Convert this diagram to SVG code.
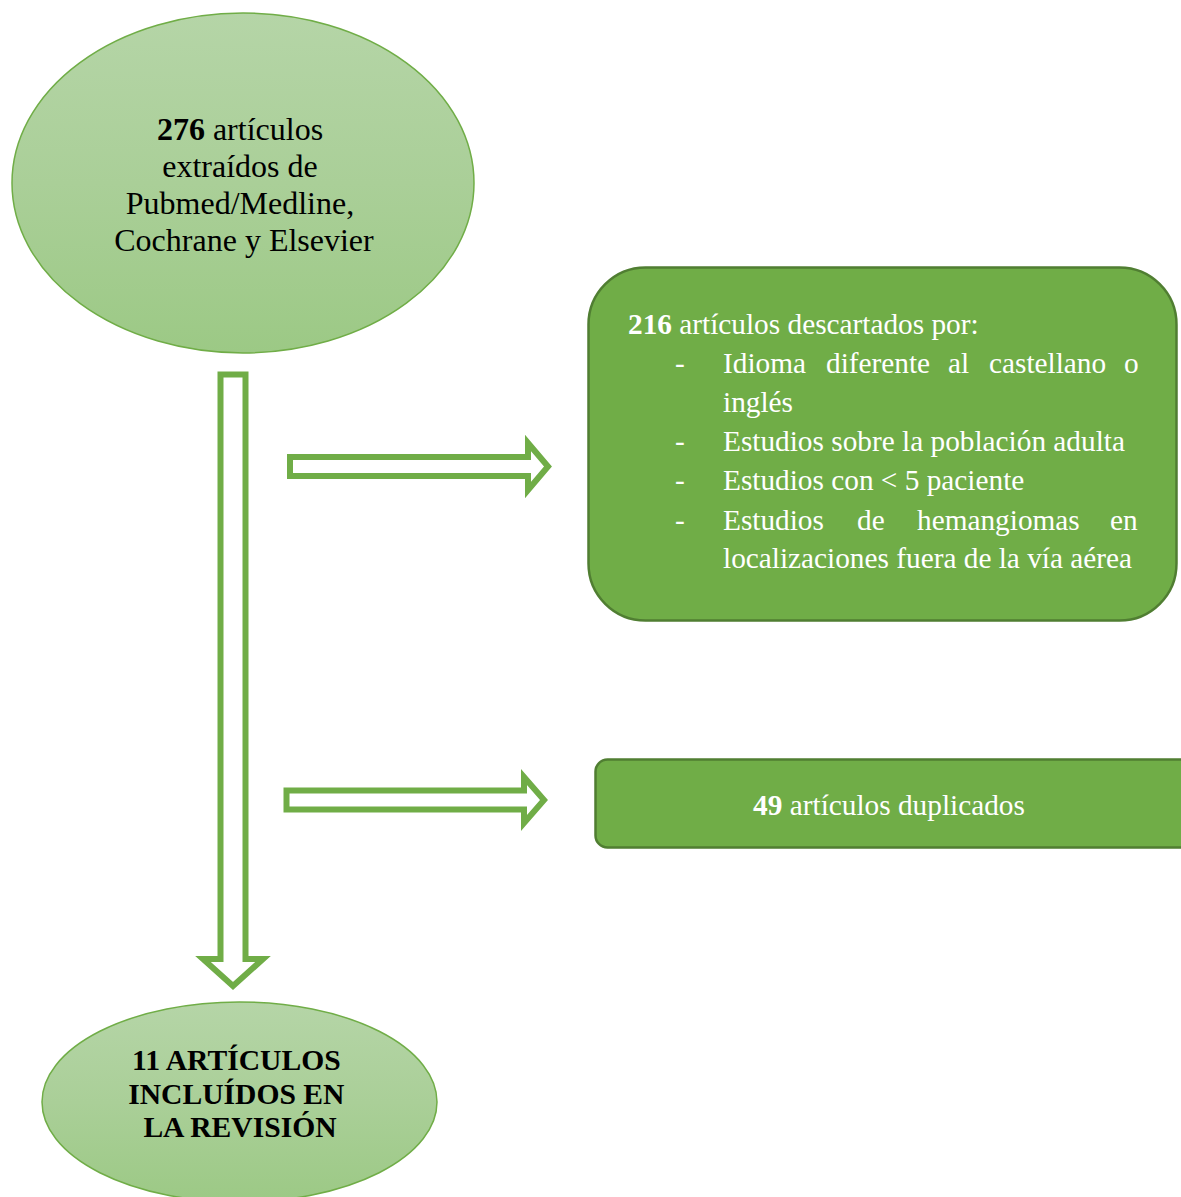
<svg xmlns="http://www.w3.org/2000/svg" width="1181" height="1197" viewBox="0 0 1181 1197">
<defs>
<linearGradient id="ellGrad" x1="0" y1="0" x2="0" y2="1">
<stop offset="0" stop-color="#b5d5a7"/>
<stop offset="0.5" stop-color="#aacf98"/>
<stop offset="1" stop-color="#9cc985"/>
</linearGradient>
<style>
.ell{fill:url(#ellGrad);stroke:#70ad47;stroke-width:1.5}
.box{fill:#70ad47;stroke:#507e32;stroke-width:2.5}
.arr{fill:#ffffff;stroke:#70ad47;stroke-width:6;stroke-miterlimit:10}
.t{font-family:"Liberation Serif","Times New Roman",serif;fill:#000}
.w{font-family:"Liberation Serif","Times New Roman",serif;fill:#ffffff;font-size:29.3px}
.b{font-weight:bold}
</style>
</defs>
<rect width="1181" height="1197" fill="#ffffff"/>
<g id="connectors">
<path class="arr" d="M220.5,374.5 H245.5 V959 H263 L233,986 L203,959 H220.5 Z"/>
<path class="arr" d="M290,457 H528 V443 L548,466.5 L528,490 V476 H290 Z"/>
<path class="arr" d="M286.5,790.5 H524 V777 L544,800 L524,823 V809.5 H286.5 Z"/>
</g>
<g id="node-start">
<ellipse class="ell" cx="243" cy="183" rx="231" ry="170"/>
<text class="t" font-size="32" text-anchor="middle">
<tspan x="244" y="140"><tspan class="b">276</tspan> artículos</tspan>
<tspan x="244" y="177">extraídos de</tspan>
<tspan x="244" y="214">Pubmed/Medline,</tspan>
<tspan x="244" y="251">Cochrane y Elsevier</tspan>
</text>
</g>
<g id="node-discarded">
<rect class="box" x="588.5" y="267.5" width="588" height="353" rx="57" ry="57"/>
<text class="w">
<tspan x="628" y="334"><tspan class="b">216</tspan> artículos descartados por:</tspan>
<tspan x="675" y="373">-</tspan>
<tspan x="723" y="373">Idioma</tspan><tspan x="826" y="373">diferente</tspan><tspan x="948" y="373">al</tspan><tspan x="989" y="373">castellano</tspan><tspan x="1124" y="373">o</tspan>
<tspan x="723" y="412">inglés</tspan>
<tspan x="675" y="451">-</tspan>
<tspan x="723" y="451">Estudios sobre la población adulta</tspan>
<tspan x="675" y="490">-</tspan>
<tspan x="723" y="490">Estudios con &lt; 5 paciente</tspan>
<tspan x="675" y="530">-</tspan>
<tspan x="723" y="530">Estudios</tspan><tspan x="857" y="530">de</tspan><tspan x="917" y="530">hemangiomas</tspan><tspan x="1110" y="530">en</tspan>
<tspan x="723" y="568">localizaciones fuera de la vía aérea</tspan>
</text>
</g>
<g id="node-duplicates">
<rect class="box" x="595.5" y="759.5" width="596" height="88" rx="12" ry="12"/>
<text class="w" x="889" y="815" text-anchor="middle"><tspan class="b">49</tspan> artículos duplicados</text>
</g>
<g id="node-included">
<ellipse class="ell" cx="239.5" cy="1102" rx="197.5" ry="100"/>
<text class="t b" font-size="29.6" text-anchor="middle">
<tspan x="240" y="1070">11 ARTÍCULOS</tspan>
<tspan x="240" y="1104">INCLUÍDOS EN</tspan>
<tspan x="240" y="1137">LA REVISIÓN</tspan>
</text>
</g>
</svg>
